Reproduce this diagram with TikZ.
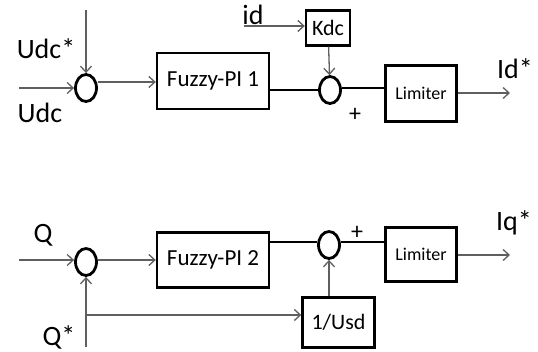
\documentclass[tikz,border=0pt]{standalone}
\usepackage{fontspec}
\setmainfont{Carlito}
\usetikzlibrary{arrows.meta,shapes.geometric}
\definecolor{wire}{RGB}{95,95,95}

\begin{document}
\begin{tikzpicture}[x=1pt,y=-1pt,
   sum/.style={draw,ellipse,line width=2.8pt,minimum width=21pt,minimum height=27pt,inner sep=0pt},
   block/.style={draw,rectangle,line width=2.4pt,inner sep=0pt},
   lbl/.style={font=\fontsize{28}{30}\selectfont,inner sep=0pt},
   sig/.style={color=wire,line width=1.3pt,-{Straight Barb[length=6pt,width=11pt]}},
   wire/.style={line width=1.3pt}]

   \useasboundingbox (0,0) rectangle (538,351);

   % d-axis loop
   \node[sum] (s1) at (86,88) {};
   \node[block,minimum width=112pt,minimum height=56pt,font=\fontsize{23}{25}\selectfont] (f1) at (213,81) {Fuzzy-PI 1};
   \node[block,minimum width=44pt,minimum height=35pt,font=\fontsize{22}{24}\selectfont] (kdc) at (328,28) {Kdc};
   \node[sum] (s2) at (330,90) {};
   \node[block,minimum width=71pt,minimum height=56pt,font=\fontsize{18}{20}\selectfont] (l1) at (421,93.5) {Limiter};

   \node[lbl] (udcs) at (46,49) {Udc*};
   \node[lbl] (udc) at (40,113) {Udc};
   \node[lbl] (id) at (253,15) {id};
   \node[lbl] (ids) at (515,69) {Id*};
   \node[font=\fontsize{24}{26}\selectfont,inner sep=0pt] (p1) at (355,115) {+};

   \coordinate (udcin) at (86,10);
   \coordinate (udcl) at (19,88);
   \coordinate (idin) at (244,26);
   \coordinate (idout) at (510,93);

   \draw[sig] (udcin) -- (s1);
   \draw[sig] (udcl) -- (s1);
   \draw[sig] ([yshift=6pt]s1.east) -- ([yshift=6pt]s1.east -| f1.west);
   \draw[sig] (idin) -- (idin -| kdc.west);
   \draw[sig] (kdc) -- (s2);
   \draw[wire] (f1.east |- s2) -- (s2);
   \draw[wire] ([yshift=2pt]s2.east) -- ([yshift=2pt]s2.east -| l1.west);
   \draw[sig] (l1.east |- idout) -- (idout);

   % q-axis loop
   \node[sum] (s3) at (86,262) {};
   \node[block,minimum width=112pt,minimum height=55pt,font=\fontsize{23}{25}\selectfont] (f2) at (213,260) {Fuzzy-PI 2};
   \node[sum] (s4) at (329,245) {};
   \node[block,minimum width=71pt,minimum height=54pt,font=\fontsize{18}{20}\selectfont] (l2) at (421,254.5) {Limiter};
   \node[block,minimum width=72pt,minimum height=50pt,font=\fontsize{22}{24}\selectfont] (usd) at (338.5,322.5) {1/Usd};

   \node[lbl] (q) at (43,235) {Q};
   \node[lbl] (qs) at (59,337) {Q*};
   \node[lbl] (iqs) at (514,223) {Iq*};
   \node[font=\fontsize{24}{26}\selectfont,inner sep=0pt] (p2) at (357,233) {+};

   \coordinate (ql) at (19,260);
   \coordinate (qin) at (86,347);
   \coordinate (br) at (86,315);
   \coordinate (iqout) at (510,255);

   \draw[sig] (ql) -- (s3.west |- ql);
   \draw[sig] (qin) -- (s3);
   \draw[sig] (br) -- (br -| usd.west);
   \draw[sig] (s3.east |- f2) -- (f2.west);
   \draw[sig] (s4.south |- usd.north) -- (s4);
   \draw[wire] ([yshift=3pt]f2.east |- s4) -- ([yshift=3pt]s4.west);
   \draw[wire] ([yshift=3pt]s4.east) -- ([yshift=3pt]s4.east -| l2.west);
   \draw[sig] (l2.east |- iqout) -- (iqout);

\end{tikzpicture}
\end{document}
